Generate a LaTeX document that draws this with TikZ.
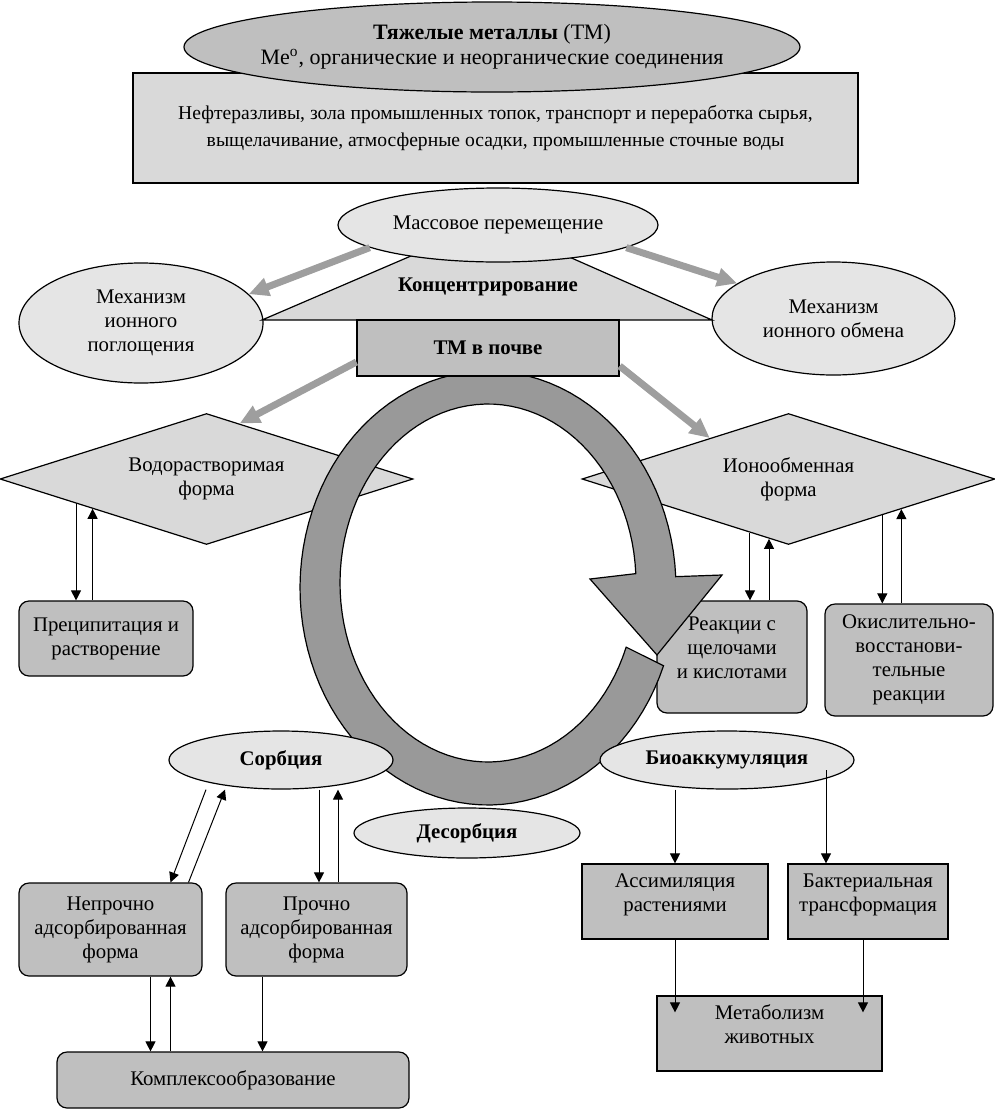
\documentclass[tikz,border=0pt]{standalone}
\usepackage{fontspec}
\setmainfont{Liberation Serif}
\usepackage{tikz}
\usetikzlibrary{arrows.meta,shapes,calc,positioning}

\begin{document}
\begin{tikzpicture}[x=0.5pt, y=-0.5pt, align=center,
    font=\fontsize{10.4}{12}\selectfont,
    every node/.style={inner sep=0pt, line width=0.6pt},
    oval/.style={ellipse, draw=black, fill=black!10},
    ovalb/.style={oval, font=\fontsize{10.4}{12}\selectfont\bfseries},
    box/.style={rectangle, draw=black, fill=black!25},
    rbox/.style={box, rounded corners=5pt},
    lift/.style={text depth=9pt},
    rhomb/.style={diamond, aspect=3.15, draw=black, fill=black!15},
    arr/.style={-{Triangle[width=5pt,length=5pt]}, line width=0.5pt},
    arrb/.style={{Triangle[width=5pt,length=5pt]}-, line width=0.5pt},
    fat/.style={-{Triangle[width=9pt,length=10pt]}, line width=3.5pt, draw=black!38},
    ring/.style={draw=black, fill=black!40, line width=0.6pt}]
    \useasboundingbox (0,0) rectangle (995,1109);

    % sources
    \node(src) [box, fill=black!15, minimum width=362.5pt, minimum height=55pt, font=\fontsize{9.8}{13.5}\selectfont] at (495.5,128)
        {Нефтеразливы, зола промышленных топок, транспорт и переработка сырья,\\выщелачивание, атмосферные осадки, промышленные сточные воды};
    \node(tm) [oval, fill=black!25, inner xsep=-8pt, minimum width=308pt, minimum height=45pt, font=\fontsize{11}{12.5}\selectfont] at (492,47)
        {\textbf{Тяжелые металлы} (ТМ)\\Me\textsuperscript{o}, органические и неорганические соединения};

    % mechanisms
    \node(mabs) [oval, minimum width=122pt, minimum height=60pt] at (141,323) {Механизм\\ионного\\поглощения};
    \node(mexc) [oval, minimum width=121.5pt, minimum height=56.5pt] at (833.5,318.5) {Механизм\\ионного обмена};
    \filldraw [fill=black!15, line width=0.6pt] (262,320) -- (490,222) -- (712,320) -- cycle;
    \node(conc) [font=\fontsize{10.4}{12}\selectfont\bfseries] at (488,287) {Концентрирование};
    \node(mass) [oval, minimum width=160pt, minimum height=37pt] at (498,225) {Массовое перемещение};

    \draw [fat] (mass.190) -- (mabs.15);
    \draw [fat] (mass.350) -- (mexc.160);

    % forms
    \node(water) [rhomb, minimum width=206.5pt, minimum height=65.5pt] at (206.5,479) {Водорастворимая\\форма};
    \node(ionx) [rhomb, minimum width=206.5pt, minimum height=65.5pt] at (788.5,479) {Ионообменная\\форма};
    \node(prec) [rbox, minimum width=87pt, minimum height=37.5pt] at (106,638.5) {Преципитация и\\растворение};
    \node(alk) [rbox, lift, minimum width=75pt, minimum height=56pt] at (732,657) {Реакции с\\щелочами\\и кислотами};
    \node(redox) [rbox, minimum width=84pt, minimum height=56pt] at (909,660) {Окислительно-\\восстанови-\\тельные\\реакции};

    % ring
    \filldraw [ring] plot[domain=21:357, samples=100] ({488+188*cos(\x)}, {588+217*sin(\x)})
        -- (722,575) -- (657,655) -- (590,579)
        -- plot[domain=357:21, samples=100] ({488+148*cos(\x)}, {583+179*sin(\x)}) -- cycle;

    \node(soil) [box, minimum width=131pt, minimum height=28pt, font=\fontsize{10.4}{12}\selectfont\bfseries] at (488,348) {ТМ в почве};
    \draw [fat] ([yshift=-7pt]soil.west) -- ($(water.north)!0.16!(water.east)$);
    \draw [fat] ([yshift=-9pt]soil.east) -- ($(ionx.west)!0.62!(ionx.north)$);

    \draw [arr] ($(water.west)!0.37!(water.south)$) coordinate (w1) -- (w1 |- prec.north);
    \draw [arrb] ($(water.west)!0.45!(water.south)$) coordinate (w2) -- (w2 |- prec.north);
    \draw [arr] ($(ionx.west)!0.814!(ionx.south)$) coordinate (i1) -- (i1 |- alk.north);
    \draw [arrb] ($(ionx.west)!0.906!(ionx.south)$) coordinate (i2) -- (i2 |- alk.north);
    \draw [arr] ($(ionx.south)!0.453!(ionx.east)$) coordinate (i3) -- (i3 |- redox.north);
    \draw [arrb] ($(ionx.south)!0.545!(ionx.east)$) coordinate (i4) -- (i4 |- redox.north);

    % sorption
    \node(sorb) [ovalb, minimum width=112pt, minimum height=29pt] at (281,760) {Сорбция};
    \node(desorb) [ovalb, minimum width=113pt, minimum height=25pt] at (467,833) {Десорбция};
    \node(bio) [ovalb, minimum width=127pt, minimum height=29pt] at (727,760) {Биоаккумуляция};

    \node(weak) [rbox, minimum width=91.5pt, minimum height=46.5pt] at (110.5,929.5) {Непрочно\\адсорбированная\\форма};
    \node(strong) [rbox, minimum width=90.5pt, minimum height=46.5pt] at (316.5,929.5) {Прочно\\адсорбированная\\форма};
    \node(cplx) [rbox, minimum width=176pt, minimum height=28pt] at (233,1080) {Комплексообразование};

    \draw [arr] ([xshift=-37.5pt]sorb.south) -- ([xshift=30pt]weak.north);
    \draw [arr] ([xshift=39pt]weak.north) -- ([xshift=-28pt]sorb.south);
    \draw [arr] ([xshift=19pt]sorb.south) coordinate (s1) -- (s1 |- strong.north);
    \draw [arrb] ([xshift=28.5pt]sorb.south) coordinate (s2) -- (s2 |- strong.north);
    \draw [arr] ([xshift=20pt]weak.south) coordinate (k1) -- (k1 |- cplx.north);
    \draw [arrb] ([xshift=30pt]weak.south) coordinate (k2) -- (k2 |- cplx.north);
    \draw [arr] ([xshift=-27pt]strong.south) coordinate (k3) -- (k3 |- cplx.north);

    % bioaccumulation
    \node(assim) [box, lift, minimum width=93pt, minimum height=37.5pt] at (675,901.5) {Ассимиляция\\растениями};
    \node(bact) [box, lift, minimum width=80pt, minimum height=37.5pt] at (868,901.5) {Бактериальная\\трансформация};
    \node(metab) [box, lift, minimum width=112.5pt, minimum height=37.5pt] at (769.5,1033.5) {Метаболизм\\животных};

    \draw [arr] (assim.north |- bio.south) -- (assim.north);
    \draw [arrb] ([xshift=-21pt]bact.north) coordinate (b1) -- ($(b1 |- bio.center)+(0,10)$);
    \draw [arr] (assim.south) -- ($(assim.south |- metab.north)+(0,17)$);
    \draw [arr] ([xshift=-2.5pt]bact.south) coordinate (b2) -- ($(b2 |- metab.north)+(0,17)$);

\end{tikzpicture}
\end{document}
